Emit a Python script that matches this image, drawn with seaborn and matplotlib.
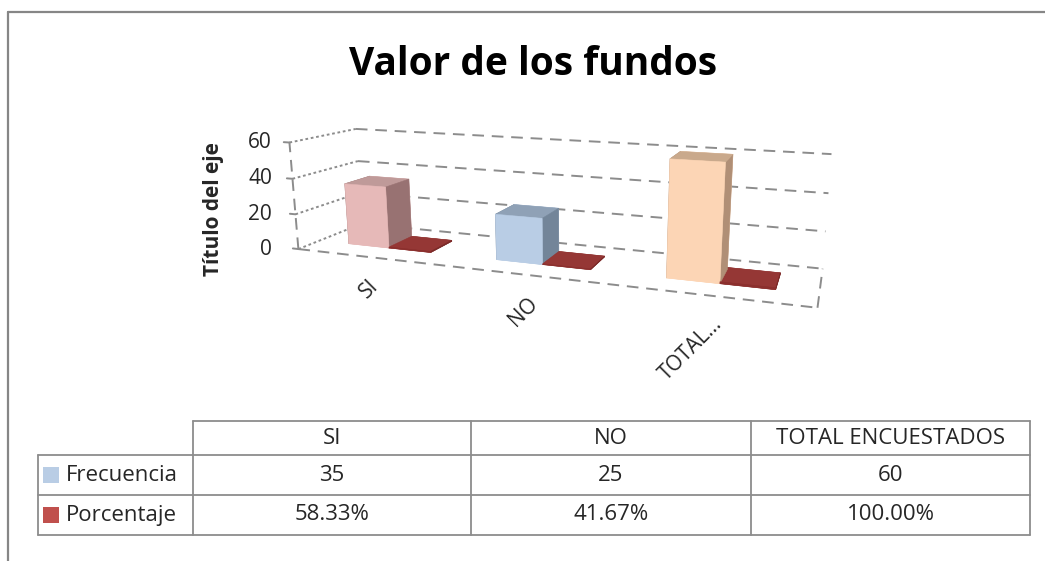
import matplotlib
matplotlib.use("Agg")
import matplotlib.pyplot as plt
import seaborn as sns
from mpl_toolkits.mplot3d import proj3d

# --- datos ---------------------------------------------------------------
categorias = ["SI", "NO", "TOTAL ENCUESTADOS"]
etiquetas_eje = ["SI", "NO", "TOTAL..."]
series = ["Frecuencia", "Porcentaje"]
frecuencia = [35, 25, 60]
porcentaje = [0.5833, 0.4167, 1.0]
ticks_z = [0, 20, 40, 60]

# colores por punto: (frente, tapa, lado)
col_frec = [
    ("#E6B9B8", "#BF9A99", "#987272"),
    ("#B9CDE5", "#8FA1B6", "#738599"),
    ("#FCD5B5", "#C9A98C", "#B08F76"),
]
col_porc = ("#8B2F2D", "#953735", "#7A2A28")
leyenda = ["#B9CDE5", "#C0504D"]

GRIS = "#8C8C8C"
W, H = 1045, 561
FS = 15
FS_TABLA = 16

sns.set_theme(style="white")
plt.rcParams["font.family"] = ["Open Sans", "DejaVu Sans"]

fig = plt.figure(figsize=(W / 100, H / 100), dpi=100)

# --- grafico 3D (vista ajustada a la perspectiva de Excel) ---------------
ax = fig.add_axes([0.2594, 0.0741, 0.5823, 1.0848], projection="3d")
ax.set_axis_off()
ax.patch.set_visible(False)
ax.computed_zorder = False

n = len(categorias)
xmin, xmax = -0.5, n - 0.5
ymin, ymax = 0.0, 1.0
zmax = ticks_z[-1]
ax.set_xlim(xmin, 2.902)
ax.set_ylim(ymin, ymax)
ax.set_zlim(0, zmax)
ax.set_box_aspect((3.402, 0.651, 0.646))
ax.set_proj_type("persp", focal_length=0.235)
ax.view_init(elev=13.18, azim=-71.22, roll=-0.21)

linea = dict(color=GRIS, lw=1.4, clip_on=False, zorder=1)
for z in ticks_z:
    ax.plot([xmin, xmax], [ymax, ymax], [z, z], ls=(0, (6, 4)), **linea)
    ax.plot([xmin, xmin], [ymin, ymax], [z, z], ls=(0, (1.4, 1.4)), **linea)
    ax.plot([xmin - 0.04, xmin], [ymin, ymin], [z, z], ls="-", **linea)
ax.plot([xmin, xmax], [ymin, ymin], [0, 0], ls=(0, (6, 4)), **linea)
ax.plot([xmax, xmax], [ymin, ymax], [0, 0], ls=(0, (6, 4)), **linea)
ax.plot([xmin, xmin], [ymin, ymin], [0, zmax], ls=(0, (6, 4)), **linea)

# columnas agrupadas: Frecuencia a la izquierda, Porcentaje a la derecha
bw = 1 / 3.5
y0, prof = 0.309, 0.4
xs, dzs, colores = [], [], []
for i in range(n):
    for k, vals in enumerate([frecuencia, porcentaje]):
        xs.append(i - bw + k * bw)
        dzs.append(vals[i])
        fr, tp, ld = col_frec[i] if k == 0 else col_porc
        # caras: -z, +z, -y, +y, -x, +x
        colores += [fr, tp, fr, fr, ld, ld]
m = len(xs)
ax.bar3d(xs, [y0] * m, [0] * m, [bw] * m, [prof] * m, dzs, color=colores,
         edgecolor=colores, linewidth=0.4, shade=False, clip_on=False, zorder=3)

# capa 2D en pixeles (encima, transparente) para marco, textos y tabla
frame = fig.add_axes([0, 0, 1, 1], zorder=5)
frame.patch.set_visible(False)
frame.set_xlim(0, W)
frame.set_ylim(H, 0)
frame.axis("off")
frame.plot([8, W], [12, 12], color="#868686", lw=1.6)
frame.plot([8, 8], [12, H], color="#868686", lw=1.6)

frame.text(533, 64, "Valor de los fundos", ha="center", va="center",
           fontsize=28, fontweight="bold", color="black")

fig.canvas.draw()


def a_pixel(x, y, z):
    x2, y2, _ = proj3d.proj_transform(x, y, z, ax.get_proj())
    d = ax.transData.transform((x2, y2))
    return d[0], H - d[1]


for z in ticks_z:
    _, py = a_pixel(xmin, ymin, z)
    frame.text(272, py, f"{z}", ha="right", va="center", fontsize=FS)

for i, lab in enumerate(etiquetas_eje):
    px, py = a_pixel(i, ymin, 0)
    frame.text(px - 2, py + 18, lab, ha="right", va="top", rotation=45,
               rotation_mode="anchor", fontsize=FS)

frame.text(213, 209, "Título del eje", rotation=90, ha="center",
           va="center", fontsize=FS, fontweight="bold")

# --- tabla de datos ------------------------------------------------------
cols = [38, 193, 471, 751, 1030]
rows = [421, 455, 495, 535]
lw_t = 1.3
frame.plot([cols[1], cols[-1]], [rows[0], rows[0]], color=GRIS, lw=lw_t)
for r in rows[1:]:
    frame.plot([cols[0], cols[-1]], [r, r], color=GRIS, lw=lw_t)
frame.plot([cols[0], cols[0]], [rows[1], rows[-1]], color=GRIS, lw=lw_t)
for c in cols[1:]:
    frame.plot([c, c], [rows[0], rows[-1]], color=GRIS, lw=lw_t)

fila_txt = [[f"{v}" for v in frecuencia], [f"{v:.2%}" for v in porcentaje]]
for j, cat in enumerate(categorias):
    cx = (cols[j + 1] + cols[j + 2]) / 2
    frame.text(cx, (rows[0] + rows[1]) / 2, cat, ha="center", va="center",
               fontsize=FS_TABLA)
    for s in range(len(series)):
        frame.text(cx, (rows[s + 1] + rows[s + 2]) / 2, fila_txt[s][j],
                   ha="center", va="center", fontsize=FS_TABLA)

for s, nombre in enumerate(series):
    cy = (rows[s + 1] + rows[s + 2]) / 2
    frame.scatter([51], [cy], marker="s", s=120, color=leyenda[s], linewidths=0)
    frame.text(66, cy, nombre, ha="left", va="center", fontsize=FS_TABLA)

fig.savefig("out.png", dpi=100)
